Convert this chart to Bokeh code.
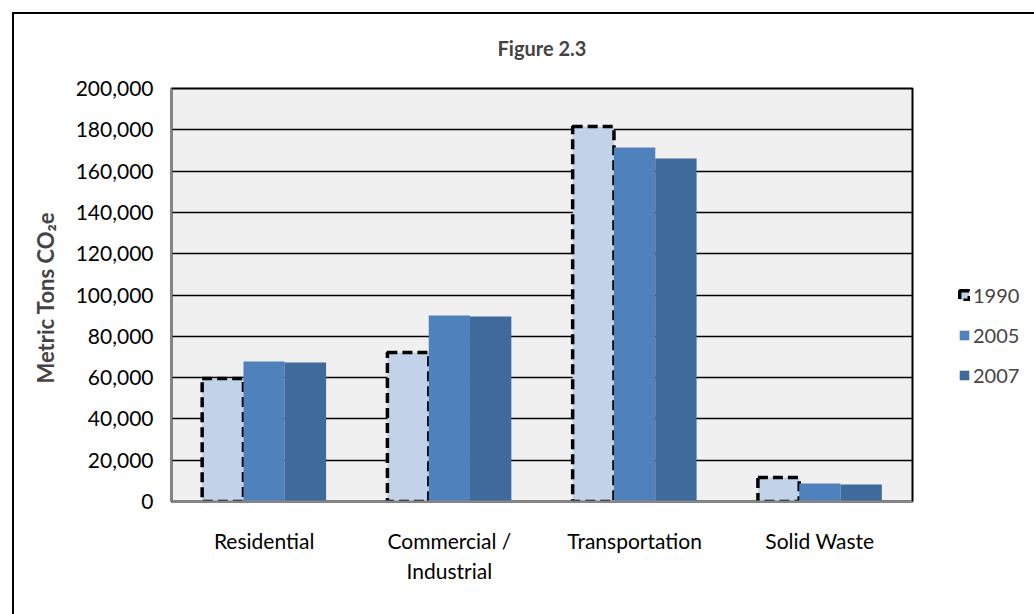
from bokeh.plotting import figure
from bokeh.models import FactorRange, Legend, LegendItem, NumeralTickFormatter, FixedTicker, Range1d, Title
from bokeh.transform import dodge
from bokeh.embed import file_html
from bokeh.resources import INLINE

categories = ["Residential", "Commercial /\nIndustrial", "Transportation", "Solid Waste"]
years = ["1990", "2005", "2007"]
v1990 = [59600, 72100, 181600, 11600]
v2005 = [67800, 90100, 171400, 8700]
v2007 = [67300, 89600, 166100, 8200]
y_ticks = [0, 20000, 40000, 60000, 80000, 100000, 120000, 140000, 160000, 180000, 200000]

FONT = "Lato"

data = dict(cat=categories, v1990=v1990, v2005=v2005, v2007=v2007)

p = figure(x_range=FactorRange(*categories, range_padding=0), y_range=Range1d(0, 200000),
           frame_width=741, frame_height=413, output_backend="svg", toolbar_location=None,
           min_border_left=157, min_border_right=122, min_border_top=74, min_border_bottom=113,
           background_fill_color="#F0F0F0", border_fill_color="white",
           styles={"margin-left": "12px", "margin-top": "12px", "border-left": "2px solid black",
                   "border-top": "2px solid black"})

p.title = Title(text="Figure 2.3", align="center", text_font=FONT, text_font_size="20px",
                text_font_style="bold", standoff=10)
# empty spacer between the title and the plot frame
p.add_layout(Title(text=" ", text_font_size="10px", standoff=11), "above")

bw = 0.223
r90 = p.vbar(x=dodge("cat", -bw, range=p.x_range), top="v1990", width=bw, source=data,
             fill_color="#C2D2E9", line_color="black", line_width=3.5, line_dash="10 5")
r05 = p.vbar(x=dodge("cat", 0, range=p.x_range), top="v2005", width=bw, source=data,
             fill_color="#4F81BD", line_color=None)
r07 = p.vbar(x=dodge("cat", bw, range=p.x_range), top="v2007", width=bw, source=data,
             fill_color="#3F6A9C", line_color=None)

p.xgrid.grid_line_color = None
p.ygrid.grid_line_color = "black"
p.ygrid.grid_line_width = 1.5
p.ygrid.level = "underlay"

p.yaxis.ticker = FixedTicker(ticks=y_ticks)
p.yaxis.formatter = NumeralTickFormatter(format="0,0")
p.yaxis.major_tick_line_color = None
p.yaxis.minor_tick_line_color = None
p.yaxis.axis_line_color = "#888888"
p.yaxis.axis_line_width = 2
p.yaxis.major_label_text_font = FONT
p.yaxis.major_label_text_font_size = "21px"
p.yaxis.major_label_text_color = "black"
p.yaxis.major_label_standoff = 12
p.yaxis.axis_label = "Metric  Tons CO\u2082e"
p.yaxis.axis_label_text_font = FONT
p.yaxis.axis_label_text_font_size = "22px"
p.yaxis.axis_label_text_font_style = "bold"
p.yaxis.axis_label_standoff = 14

p.xaxis.major_tick_line_color = None
p.xaxis.axis_line_color = "#888888"
p.xaxis.axis_line_width = 2
p.xaxis.major_label_text_font = FONT
p.xaxis.major_label_text_font_size = "21px"
p.xaxis.major_label_text_color = "black"
p.xaxis.major_label_standoff = 20

p.outline_line_color = "black"
p.outline_line_width = 2

legend = Legend(items=[LegendItem(label=years[0], renderers=[r90]),
                       LegendItem(label=years[1], renderers=[r05]),
                       LegendItem(label=years[2], renderers=[r07])],
                location=(46, 114), glyph_width=12, glyph_height=12, label_standoff=3,
                spacing=16, label_height=22, padding=0, margin=0,
                label_text_font=FONT, label_text_font_size="20px",
                background_fill_alpha=0, border_line_color=None)
p.add_layout(legend, "right")

open("out.html", "w").write(file_html(p, INLINE))
